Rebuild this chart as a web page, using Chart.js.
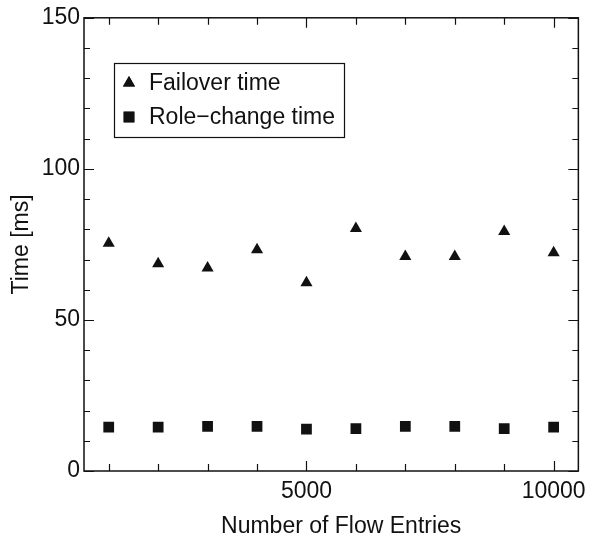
<!DOCTYPE html>
<html>
<head>
<meta charset="utf-8">
<script src="https://cdn.jsdelivr.net/npm/chart.js@4/dist/chart.umd.min.js"></script>
<style>
html,body{margin:0;padding:0;background:#fff;}
#wrap{width:593px;height:539px;position:relative;}
</style>
</head>
<body>
<div id="wrap"><canvas id="c" width="593" height="539"></canvas></div>
<script>
const flowEntries = [1000, 2000, 3000, 4000, 5000, 6000, 7000, 8000, 9000, 10000];
const failoverTime = [75.4, 68.6, 67.2, 73.2, 62.3, 80.3, 71.0, 71.0, 79.3, 72.2];
const roleChangeTime = [14.5, 14.5, 14.8, 14.8, 13.9, 14.0, 14.8, 14.8, 14.0, 14.5];
const xTickValues = [5000, 10000];
const yTickValues = [0, 50, 100, 150];
const seriesLabels = ['Failover time', 'Role\u2212change time'];
const xTitle = 'Number of Flow Entries';
const yTitle = 'Time [ms]';

const FONT = 'Liberation Sans, Arial, Helvetica, sans-serif';
const INK = '#111';
const FS = 23;

const frameAndTicks = {
  id: 'frameAndTicks',
  afterDatasetsDraw(chart) {
    const {ctx, chartArea: a, scales: {x, y}} = chart;
    ctx.save();
    ctx.strokeStyle = INK;
    ctx.lineWidth = 1.5;
    ctx.strokeRect(a.left, a.top, a.right - a.left, a.bottom - a.top);
    ctx.lineWidth = 1.2;
    ctx.beginPath();
    for (let v = 0; v <= 150; v += 10) {
      const p = Math.round(y.getPixelForValue(v)) + 0.5;
      const L = yTickValues.includes(v) ? 10 : 6;
      ctx.moveTo(a.left, p); ctx.lineTo(a.left + L, p);
      ctx.moveTo(a.right, p); ctx.lineTo(a.right - L, p);
    }
    for (let v = 1000; v <= 10000; v += 1000) {
      const p = Math.round(x.getPixelForValue(v)) + 0.5;
      const L = xTickValues.includes(v) ? 10 : 7;
      ctx.moveTo(p, a.bottom); ctx.lineTo(p, a.bottom - L);
      ctx.moveTo(p, a.top); ctx.lineTo(p, a.top + L);
    }
    ctx.stroke();

    // x-axis title (slightly right of centre, as in the reference)
    ctx.fillStyle = INK;
    ctx.font = FS + 'px ' + FONT;
    ctx.textAlign = 'center';
    ctx.textBaseline = 'alphabetic';
    ctx.fillText(xTitle, (a.left + a.right) / 2 + 10, 533);

    // legend box inside plot
    const bx = 114, by = 63, bw = 230, bh = 74;
    ctx.lineWidth = 1.2;
    ctx.strokeRect(bx + 0.5, by + 0.5, bw, bh);
    ctx.textBaseline = 'middle';
    ctx.textAlign = 'left';
    const rows = [by + 20, by + 54];
    chart.data.datasets.forEach((ds, i) => {
      Chart.helpers.drawPoint(ctx, {pointStyle: ds.pointStyle, radius: ds.pointRadius, rotation: 0, borderWidth: 0}, 129, rows[i]);
      ctx.fillStyle = INK;
      ctx.fill();
      ctx.fillText(ds.label, 149, rows[i] + 1);
    });
    ctx.restore();
  }
};

new Chart(document.getElementById('c'), {
  type: 'scatter',
  data: {
    datasets: [
      {
        label: seriesLabels[0],
        data: flowEntries.map((v, i) => ({x: v, y: failoverTime[i]})),
        pointStyle: 'triangle', pointRadius: 7, pointHoverRadius: 7,
        backgroundColor: INK, borderColor: INK, borderWidth: 0
      },
      {
        label: seriesLabels[1],
        data: flowEntries.map((v, i) => ({x: v, y: roleChangeTime[i]})),
        pointStyle: 'rect', pointRadius: 7.6, pointHoverRadius: 7.6,
        backgroundColor: INK, borderColor: INK, borderWidth: 0
      }
    ]
  },
  options: {
    responsive: false,
    animation: false,
    events: [],
    layout: {padding: {left: 0, right: 7, top: 16, bottom: 0}},
    plugins: {legend: {display: false}, tooltip: {enabled: false}},
    scales: {
      x: {
        type: 'linear', min: 500, max: 10500,
        afterBuildTicks: s => { s.ticks = xTickValues.map(v => ({value: v})); },
        afterFit: s => { s.height = 68; },
        grid: {display: false, drawTicks: false},
        border: {display: false},
        ticks: {color: INK, font: {family: FONT, size: FS}, padding: 7, maxRotation: 0, autoSkip: false,
                callback: v => String(v)},
        title: {display: false, text: xTitle}
      },
      y: {
        type: 'linear', min: 0, max: 150,
        afterBuildTicks: s => { s.ticks = yTickValues.map(v => ({value: v})); },
        afterFit: s => { s.width = 84; },
        grid: {display: false, drawTicks: false},
        border: {display: false},
        ticks: {color: INK, font: {family: FONT, size: FS}, padding: 4, callback: v => String(v)},
        title: {display: true, text: yTitle, color: INK, font: {family: FONT, size: FS}, padding: {top: 8, bottom: 2}}
      }
    }
  },
  plugins: [frameAndTicks]
});
</script>
</body>
</html>
